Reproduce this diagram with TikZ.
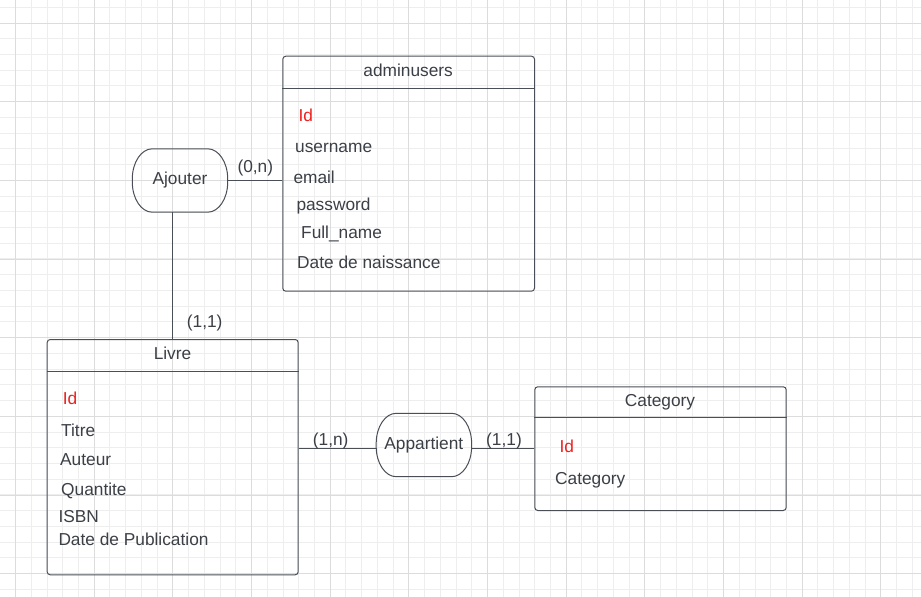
\documentclass[tikz,border=0pt]{standalone}
\usepackage{fontspec}
\setmainfont{Liberation Sans}
\usetikzlibrary{calc}
\definecolor{txt}{HTML}{3B3F46}
\definecolor{lncol}{HTML}{4A4F57}
\definecolor{idred}{HTML}{EE2020}
\definecolor{gminor}{HTML}{EEEEEE}
\definecolor{gmajor}{HTML}{DCDCDC}
\tikzset{
  ln/.style={draw=lncol, line width=1pt},
  tbl/.style={draw=lncol, line width=1pt, rounded corners=3pt, rectangle, inner sep=0pt, anchor=north west},
  relnode/.style={rectangle, inner sep=0pt, minimum width=95.4pt, minimum height=63.4pt},
  fld/.style={anchor=base west, inner sep=0pt, text=txt, font=\fontsize{17.3}{20}\selectfont},
  idfld/.style={fld, text=idred},
  ttl/.style={anchor=base, inner sep=0pt, text=txt, font=\fontsize{17.3}{20}\selectfont},
}
\newcommand\relshape[1]{%
  \draw[ln, shift={(#1.center)}] (-27.7,-31.7) -- (27.7,-31.7)
    .. controls (38.75,-31.7) and (47.7,-18.1) .. (47.7,-1.7) -- (47.7,1.7)
    .. controls (47.7,18.1) and (38.75,31.7) .. (27.7,31.7) -- (-27.7,31.7)
    .. controls (-38.75,31.7) and (-47.7,18.1) .. (-47.7,1.7) -- (-47.7,-1.7)
    .. controls (-47.7,-18.1) and (-38.75,-31.7) .. (-27.7,-31.7) -- cycle;}
\begin{document}
\begin{tikzpicture}[x=1pt,y=-1pt]
\useasboundingbox (0,0) rectangle (921,597);
\fill[white] (0,0) rectangle (921,597);
\begin{scope}
\clip (0,0) rectangle (921,597);
\foreach \k in {-1,...,58} \draw[gminor, line width=1pt] ({15.6+15.733*\k},0) -- ({15.6+15.733*\k},597);
\foreach \k in {-1,...,37} \draw[gminor, line width=1pt] (0,{23+15.733*\k}) -- (921,{23+15.733*\k});
\foreach \k in {0,...,11} \draw[gmajor, line width=1pt] ({15.6+78.667*\k},0) -- ({15.6+78.667*\k},597);
\foreach \k in {-1,...,7} \draw[gmajor, line width=1pt] (0,{23+78.667*\k}) -- (921,{23+78.667*\k});
\end{scope}

% adminusers table
\node[tbl, minimum width=251.7pt, minimum height=235pt] (adm) at (282.3,55.7) {};
\draw[ln] ($(adm.north west)+(0,32.6)$) -- ($(adm.north east)+(0,32.6)$);
\node[ttl] (admt) at (408.2,76) {adminusers};
\node[idfld] (admid) at (298.3,121) {Id};
\node[fld] (admu) at (295,152) {username};
\node[fld] (adme) at (293.3,183.3) {email};
\node[fld] (admp) at (296.3,210.7) {password};
\node[fld] (admf) at (301,238.3) {Full\_name};
\node[fld] (admd) at (297,268.3) {Date de naissance};

% Livre table
\node[tbl, minimum width=251pt, minimum height=235.3pt] (liv) at (46.7,339) {};
\draw[ln] ($(liv.north west)+(0,32.3)$) -- ($(liv.north east)+(0,32.3)$);
\node[ttl] (livt) at (172.5,359) {Livre};
\node[idfld] (livid) at (62.7,404) {Id};
\node[fld] (livti) at (61,436.7) {Titre};
\node[fld] (livau) at (60,465) {Auteur};
\node[fld] (livq) at (61,495.7) {Quantite};
\node[fld] (livi) at (58.3,522.3) {ISBN};
\node[fld] (livd) at (58.3,545.7) {Date de Publication};

% Category table
\node[tbl, minimum width=251.4pt, minimum height=123.7pt] (cat) at (534.3,386.3) {};
\draw[ln] ($(cat.north west)+(0,31)$) -- ($(cat.north east)+(0,31)$);
\node[ttl] (catt) at (660,406.7) {Category};
\node[idfld] (catid) at (559.3,452.3) {Id};
\node[fld] (catc) at (555,484.3) {Category};

% relations
\node[relnode] (aj) at (180,180.5) {};
\relshape{aj}
\node[ttl] (ajt) at (180,184.3) {Ajouter};
\node[relnode] (app) at (423.9,445) {};
\relshape{app}
\node[ttl] (appt) at (423.8,449) {Appartient};

% connectors
\draw[ln] (aj.east) -- (aj.east -| adm.west);
\draw[ln] (aj.south -| liv.north) -- (liv.north);
\draw[ln] (liv.east |- cat.west) -- (app.west |- cat.west);
\draw[ln] (app.east |- cat.west) -- (cat.west);

% cardinalities
\node[fld] (c0n) at (237.3,172.3) {(0,n)};
\node[fld] (c11a) at (186.7,327.7) {(1,1)};
\node[fld] (c1n) at (312.7,445.3) {(1,n)};
\node[fld] (c11b) at (486,445.3) {(1,1)};
\end{tikzpicture}
\end{document}
